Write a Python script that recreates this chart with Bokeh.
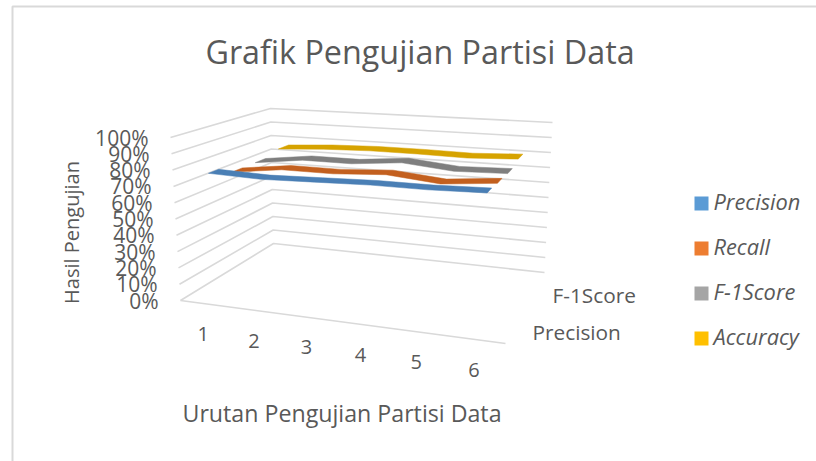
from bokeh.plotting import figure
from bokeh.embed import file_html
from bokeh.resources import INLINE
from bokeh.core.properties import value
from bokeh.models import Range1d

title = "Grafik Pengujian Partisi Data"
x_title = "Urutan Pengujian Partisi Data"
y_title = "Hasil Pengujian"
categories = ["1", "2", "3", "4", "5", "6"]
series_names = ["Precision", "Recall", "F-1Score", "Accuracy"]
depth_labels = ["F-1Score", "Precision"]
value_ticks = [0, 10, 20, 30, 40, 50, 60, 70, 80, 90, 100]
precision = [78, 77, 78, 79, 79, 80]
recall = [73, 77, 77, 79, 76, 79]
f1score = [73, 77, 77, 80, 77, 78]
accuracy = [76, 78, 79, 79, 78.5, 80]
series_values = [precision, recall, f1score, accuracy]
colors_top = ["#4a7fb5", "#c3601f", "#7f7f7f", "#d6a300"]
colors_key = ["#5b9bd5", "#ed7d31", "#a5a5a5", "#ffc000"]

FONT = value("Open Sans")
TXT = "#595959"
GRID = "#d9d9d9"

# corners of the 3D box on the page: (x, y)
FL0, BL0, FR0, BR0 = (180, 300), (273, 243), (505, 343), (544, 272)
FL1, BL1, FR1, BR1 = (170, 137), (270, 108), (517, 162), (552, 122)
PERSPECTIVE = 1.1


def lerp(a, b, f):
    return (a[0] + (b[0] - a[0]) * f, a[1] + (b[1] - a[1]) * f)


def warp(t):
    return t / (t + PERSPECTIVE * (1 - t))


def proj(t, s, v):
    """t along the categories 0-1, s depth 0-1, v percent."""
    bottom = lerp(lerp(FL0, FR0, t), lerp(BL0, BR0, t), s)
    top = lerp(lerp(FL1, FR1, t), lerp(BL1, BR1, t), s)
    return lerp(bottom, top, v / 100)


p = figure(width=816, height=461, output_backend="svg", toolbar_location=None,
           x_range=Range1d(0, 816), y_range=Range1d(461, 0), min_border=0,
           outline_line_color=None)
p.xaxis.visible = False
p.yaxis.visible = False
p.xgrid.visible = False
p.ygrid.visible = False

# chart frame
p.line([12, 12, 816], [461, 6, 6], line_color=GRID, line_width=2)

# walls
for v in value_ticks:
    pts = [proj(0, 0, v), proj(0, 1, v), proj(1, 1, v)]
    p.line([q[0] for q in pts], [q[1] for q in pts], line_color=GRID, line_width=1.6)
    a = proj(0, 0, v)
    p.text([a[0] - 22], [a[1]], text=[f"{v}%"], text_font=FONT, text_font_size="21px",
           text_color=TXT, text_align="right", text_baseline="middle")
floor = [proj(0, 0, 0), proj(1, 0, 0)]
p.line([q[0] for q in floor], [q[1] for q in floor], line_color=GRID, line_width=1.6)

# ribbons, back to front
W = 0.055
n = len(categories)
for j in reversed(range(len(series_values))):
    vals = series_values[j]
    s = (j + 0.5) / len(series_values)
    ts = [warp((i + 0.5) / n) for i in range(n)]
    ts = [t + 0.01 * (1 - t) for t in ts]
    front = [proj(t, s - W, v) for t, v in zip(ts, vals)]
    back = [proj(t, s + W, v) for t, v in zip(ts, vals)]
    ring = front + back[::-1]
    p.patch([q[0] for q in ring], [q[1] for q in ring], fill_color=colors_top[j],
            line_color=colors_top[j], line_width=0.5)

# category labels
for i, c in enumerate(categories):
    a = proj(warp((i + 0.5) / n), 0, 0)
    p.text([a[0] - 2], [a[1] + 30], text=[c], text_font=FONT, text_font_size="20px",
           text_color=TXT, text_align="center", text_baseline="middle")

# depth labels
for lab, x, y in zip(depth_labels, [552, 532], [294, 331]):
    p.text([x], [y], text=[lab], text_font=FONT, text_font_size="20.8px", text_color=TXT,
           text_align="left", text_baseline="middle")

# titles
p.text([419.5], [50], text=[title], text_font=FONT, text_font_size="32.3px", text_color=TXT,
       text_align="center", text_baseline="middle")
p.text([341.5], [412], text=[x_title], text_font=FONT, text_font_size="23.2px", text_color=TXT,
       text_align="center", text_baseline="middle")
p.text([71], [232], text=[y_title], text_font=FONT, text_font_size="20px", text_color=TXT,
       text_align="center", text_baseline="middle", angle=90, angle_units="deg")

# legend
for j, name in enumerate(series_names):
    y = 203 + 45 * j
    p.scatter([701], [y], marker="square", size=14, fill_color=colors_key[j], line_color=None)
    p.text([713], [y - 2], text=[name], text_font=FONT, text_font_size="21.8px", text_font_style="italic",
           text_color=TXT, text_align="left", text_baseline="middle")

open("out.html", "w").write(file_html(p, INLINE))
